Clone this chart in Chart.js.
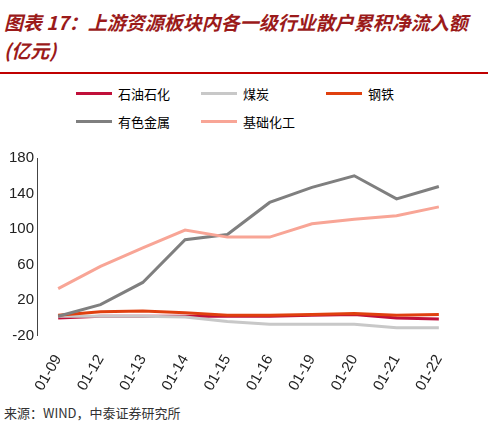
<!DOCTYPE html>
<html><head><meta charset="utf-8">
<script src="https://cdn.jsdelivr.net/npm/chart.js@4"></script>
<style>
body{margin:0;width:488px;height:428px;background:#fff;font-family:"Noto Sans CJK SC",sans-serif;position:relative;overflow:hidden}
#title{position:absolute;left:4px;top:8px;width:470px;font-size:19px;font-weight:bold;font-style:italic;color:#9b1a1a;line-height:28px;word-break:break-all}
#rule{position:absolute;left:0;top:72px;width:488px;height:2px;background:#c00000}
#legend{position:absolute;left:76px;top:84px;width:400px;font-size:13px}
.it{position:absolute;display:flex;align-items:center}
.it span{display:inline-block;width:36px;height:3px;margin-right:6px}
#wrap{position:absolute;left:0;top:146px;width:488px;height:256px}
#src{position:absolute;left:4px;top:403px;font-size:13px;color:#333}
</style></head><body>
<div id="title">图表 17：上游资源板块内各一级行业散户累积净流入额(亿元)</div>
<div id="rule"></div>
<div id="legend"></div>
<div id="wrap"><canvas id="c"></canvas></div>
<div id="src">来源：WIND，中泰证券研究所</div>
<script>
const categories = ['01-09','01-12','01-13','01-14','01-15','01-16','01-19','01-20','01-21','01-22'];
const seriesNames = ['石油石化','煤炭','钢铁','有色金属','基础化工'];
const petro = [0,2,2,2,2,2,3,4,0,-1];
const coal = [2,2,2,1,-4,-7,-7,-7,-11,-11];
const steel = [3,7,8,6,3,3,4,5,3,4];
const metals = [2,15,40,88,94,130,147,160,134,148];
const chem = [33,58,79,99,91,91,106,111,115,125];
const colors = ['#c0103a','#c8c8c8','#e0400f','#7f7f7f','#f8a596'];
const allData = [petro, coal, steel, metals, chem];

// legend, 3 columns
const legend = document.getElementById('legend');
seriesNames.forEach((n, i) => {
    const d = document.createElement('div');
    d.className = 'it';
    d.style.left = (i % 3) * 125 + 'px';
    d.style.top = Math.floor(i / 3) * 28 + 'px';
    d.innerHTML = `<span style="background:${colors[i]}"></span>${n}`;
    legend.appendChild(d);
});

const datasets = seriesNames.map((n, i) => ({
    label: n, data: allData[i], borderColor: colors[i], borderWidth: 3,
    pointRadius: 0, tension: 0, fill: false
})).reverse();

new Chart(document.getElementById('c'), {
    type: 'line',
    data: { labels: categories, datasets: datasets },
    options: {
        responsive: true, maintainAspectRatio: false, animation: false,
        layout: { padding: { right: 28, left: 6 } },
        plugins: { legend: { display: false }, tooltip: { enabled: false } },
        scales: {
            x: {
                offset: true,
                grid: { display: false },
                border: { display: false },
                ticks: { minRotation: 60, maxRotation: 60, padding: 8, color: '#222', font: { size: 15, family: 'Liberation Sans' } }
            },
            y: {
                min: -20, max: 180,
                ticks: { stepSize: 20, color: '#222', font: { size: 15, family: 'Liberation Sans' } },
                grid: { drawTicks: false, color: ctx => ctx.tick.value === 0 ? '#444' : 'transparent' },
                border: { color: '#444' }
            }
        }
    }
});
</script>
</body></html>
